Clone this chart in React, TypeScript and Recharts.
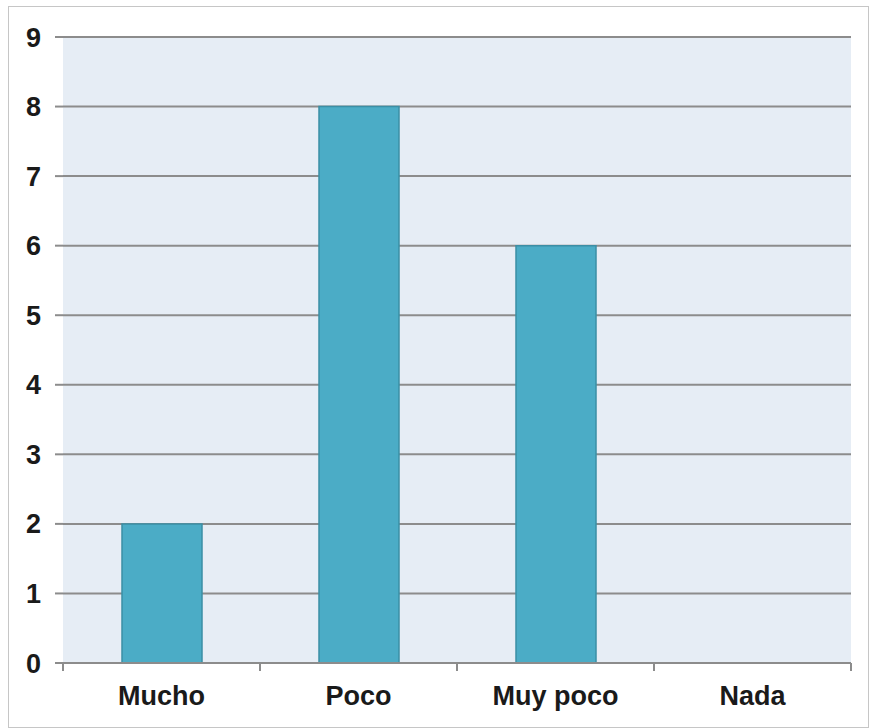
import React from 'react';
import { BarChart, Bar, XAxis, YAxis, CartesianGrid } from 'recharts';

const categories = ['Mucho', 'Poco', 'Muy poco', 'Nada'];
const values = [2, 8, 6, 0];
const yTicks = [0, 1, 2, 3, 4, 5, 6, 7, 8, 9];

const data = categories.map((name, i) => ({ name, value: values[i] }));

const FONT = '"Liberation Sans", Arial, sans-serif';
const GRID = '#8c8c8c';

const XTick = (props: any) => {
  const { x, y, payload, index } = props;
  const half = payload && payload.offset ? payload.offset : 98.5;
  return (
    <g>
      <line x1={x - half} x2={x - half} y1={y - 8} y2={y} stroke={GRID} strokeWidth={2} />
      {index === categories.length - 1 && (
        <line x1={x + half} x2={x + half} y1={y - 8} y2={y} stroke={GRID} strokeWidth={2} />
      )}
      <text
        x={x}
        y={y + 34}
        textAnchor="middle"
        fontFamily={FONT}
        fontWeight="bold"
        fontSize={27}
        fill="#1a1a1a"
      >
        {payload.value}
      </text>
    </g>
  );
};

const App = () => {
  return (
    <div style={{ position: 'absolute', left: 0, top: 0, width: 871, height: 728, background: '#fff' }}>
      <div
        style={{
          position: 'absolute',
          left: 8,
          top: 6,
          width: 859,
          height: 720,
          border: '1px solid #c6c6c6',
        }}
      />
      <BarChart
        width={871}
        height={728}
        data={data}
        margin={{ top: 37, right: 20, bottom: 35, left: 0 }}
        barSize={80}
      >
        <CartesianGrid vertical={false} fill="#e6edf5" stroke={GRID} strokeWidth={2} />
        <XAxis
          dataKey="name"
          height={30}
          axisLine={{ stroke: GRID, strokeWidth: 2 }}
          tickLine={false}
          tickSize={8}
          tickMargin={0}
          tick={<XTick />}
          interval={0}
        />
        <YAxis
          width={63}
          domain={[0, 9]}
          ticks={yTicks}
          interval={0}
          axisLine={false}
          tickLine={{ stroke: GRID, strokeWidth: 2 }}
          tickSize={8}
          tickMargin={14}
          tick={{ fontFamily: FONT, fontWeight: 'bold', fontSize: 27, fill: '#1a1a1a' }}
        />
        <Bar
          dataKey="value"
          fill="#4bacc6"
          stroke="#3b8ea5"
          strokeWidth={1.5}
          isAnimationActive={false}
        />
      </BarChart>
    </div>
  );
};

export default App;
